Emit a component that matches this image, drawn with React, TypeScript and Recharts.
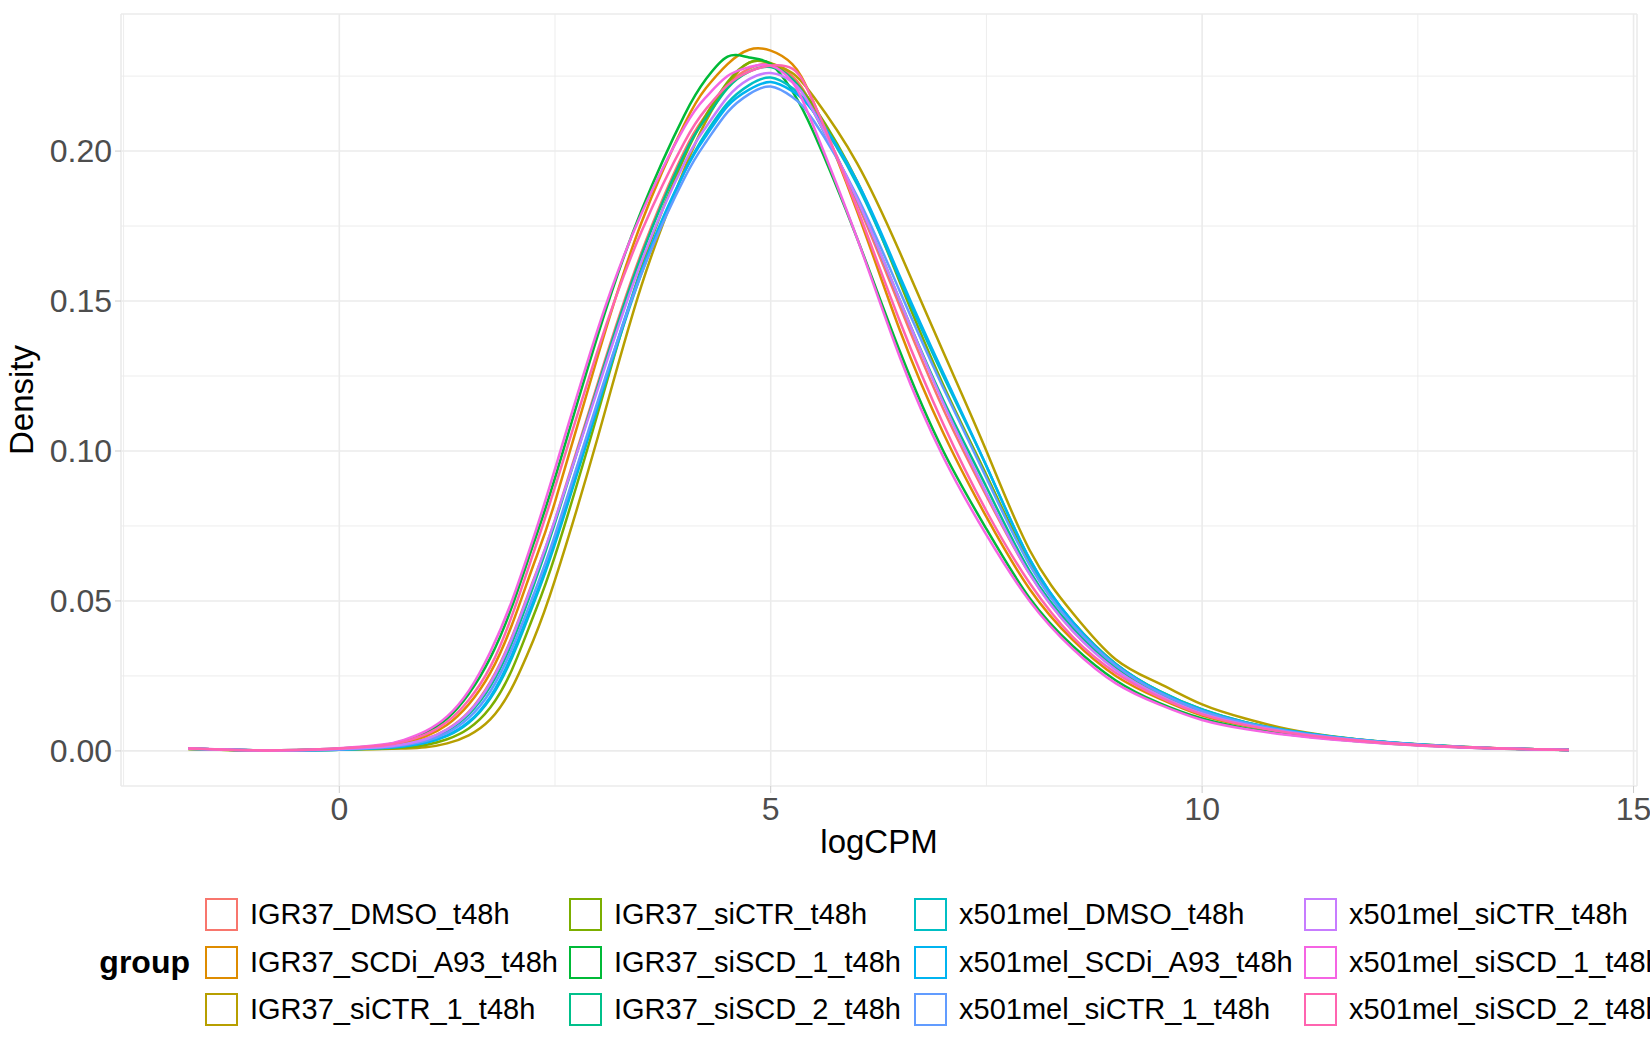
import { CartesianGrid, Line, LineChart, XAxis, YAxis } from "recharts";

// logCPM grid the densities were read at
const logCPM = [
  -1.75, -1, -0.5, 0, 0.5, 0.75, 1, 1.25, 1.5, 1.75, 2, 2.25, 2.5, 3, 3.5, 4,
  4.25, 4.5, 4.75, 5, 5.25, 5.5, 6, 6.5, 7, 7.5, 8, 8.5, 9, 9.5, 10, 10.5, 11,
  11.5, 12, 12.5, 13, 13.5, 14.25,
];

const igr37Dmso = [
  0.0007, 0.0002, 0.0002, 0.0006, 0.0014, 0.0023, 0.004, 0.0072, 0.013, 0.023,
  0.038, 0.057, 0.077, 0.123, 0.166, 0.2, 0.212, 0.222, 0.2275, 0.229, 0.225,
  0.214, 0.183, 0.148, 0.114, 0.085, 0.059, 0.04, 0.0275, 0.019, 0.0128, 0.009,
  0.0064, 0.0045, 0.0031, 0.0021, 0.0013, 0.0008, 0.0003,
];
const igr37ScdiA93 = [
  0.0007, 0.0002, 0.0002, 0.0007, 0.0016, 0.0028, 0.0049, 0.0087, 0.0155,
  0.026, 0.042, 0.062, 0.083, 0.132, 0.176, 0.209, 0.221, 0.229, 0.2338,
  0.2335, 0.229, 0.216, 0.18, 0.14, 0.106, 0.078, 0.054, 0.037, 0.025, 0.0175,
  0.0118, 0.0084, 0.006, 0.0043, 0.003, 0.002, 0.0013, 0.0008, 0.0003,
];
const igr37SiCtr1 = [
  0.0006, 0.0001, 0.0001, 0.0004, 0.0006, 0.0008, 0.0012, 0.0025, 0.0052,
  0.0105, 0.021, 0.037, 0.057, 0.105, 0.155, 0.194, 0.21, 0.222, 0.2295,
  0.2293, 0.226, 0.218, 0.196, 0.166, 0.133, 0.1, 0.067, 0.046, 0.0305, 0.0225,
  0.0155, 0.0108, 0.0072, 0.0049, 0.0033, 0.0022, 0.0014, 0.0008, 0.0003,
];
const igr37SiCtr = [
  0.0006, 0.0001, 0.0002, 0.0004, 0.0007, 0.0011, 0.002, 0.0039, 0.0075,
  0.0145, 0.027, 0.045, 0.065, 0.113, 0.161, 0.198, 0.212, 0.223, 0.2295,
  0.2292, 0.224, 0.215, 0.19, 0.156, 0.122, 0.092, 0.063, 0.043, 0.029, 0.02,
  0.0138, 0.0096, 0.0067, 0.0047, 0.0032, 0.0021, 0.0013, 0.0008, 0.0003,
];
const igr37SiScd1 = [
  0.0008, 0.0002, 0.0003, 0.0008, 0.0019, 0.0034, 0.0061, 0.0108, 0.019, 0.031,
  0.048, 0.069, 0.091, 0.139, 0.18, 0.212, 0.224, 0.2315, 0.2312, 0.229, 0.22,
  0.206, 0.171, 0.133, 0.1, 0.074, 0.051, 0.035, 0.0235, 0.016, 0.0108, 0.0076,
  0.0055, 0.004, 0.0028, 0.0019, 0.0012, 0.0007, 0.0003,
];
const igr37SiScd2 = [
  0.0007, 0.0002, 0.0002, 0.0006, 0.0013, 0.0021, 0.0037, 0.0067, 0.0122,
  0.0215, 0.036, 0.055, 0.076, 0.122, 0.165, 0.199, 0.211, 0.221, 0.2265,
  0.228, 0.224, 0.213, 0.184, 0.15, 0.117, 0.088, 0.06, 0.041, 0.028, 0.0195,
  0.0132, 0.0092, 0.0065, 0.0046, 0.0032, 0.0021, 0.0013, 0.0008, 0.0003,
];
const melDmso = [
  0.0008, 0.0002, 0.0002, 0.0004, 0.001, 0.0015, 0.0027, 0.005, 0.0094,
  0.0175, 0.031, 0.049, 0.069, 0.115, 0.159, 0.193, 0.206, 0.216, 0.222,
  0.2245, 0.221, 0.213, 0.189, 0.157, 0.125, 0.095, 0.064, 0.043, 0.029, 0.02,
  0.0138, 0.0096, 0.0068, 0.0048, 0.0033, 0.0022, 0.0014, 0.0008, 0.0003,
];
const melScdiA93 = [
  0.0007, 0.0002, 0.0002, 0.0004, 0.001, 0.0016, 0.0028, 0.0052, 0.0097, 0.018,
  0.032, 0.05, 0.07, 0.116, 0.16, 0.193, 0.205, 0.215, 0.2205, 0.223, 0.22,
  0.213, 0.19, 0.158, 0.126, 0.095, 0.064, 0.043, 0.0288, 0.0198, 0.0136,
  0.0095, 0.0067, 0.0047, 0.0032, 0.0021, 0.0013, 0.0008, 0.0003,
];
const melSiCtr1 = [
  0.0007, 0.0002, 0.0002, 0.0005, 0.0012, 0.0019, 0.0033, 0.006, 0.011, 0.0198,
  0.034, 0.052, 0.072, 0.117, 0.159, 0.191, 0.203, 0.213, 0.219, 0.2215, 0.218,
  0.21, 0.185, 0.153, 0.121, 0.091, 0.062, 0.042, 0.0285, 0.0195, 0.0133,
  0.0093, 0.0066, 0.0046, 0.0032, 0.0021, 0.0013, 0.0008, 0.0003,
];
const melSiCtr = [
  0.0007, 0.0002, 0.0002, 0.0006, 0.0013, 0.0022, 0.0039, 0.0071, 0.0128,
  0.0225, 0.0375, 0.0565, 0.077, 0.121, 0.163, 0.196, 0.208, 0.218, 0.224,
  0.226, 0.223, 0.213, 0.184, 0.15, 0.116, 0.086, 0.059, 0.04, 0.027, 0.0185,
  0.0125, 0.0088, 0.0062, 0.0044, 0.003, 0.002, 0.0013, 0.0008, 0.0003,
];
const melSiScd1 = [
  0.0009, 0.0002, 0.0003, 0.0009, 0.0021, 0.0037, 0.0066, 0.0115, 0.02, 0.033,
  0.05, 0.071, 0.094, 0.141, 0.179, 0.208, 0.218, 0.225, 0.228, 0.2285, 0.223,
  0.208, 0.171, 0.131, 0.098, 0.072, 0.05, 0.034, 0.0225, 0.0155, 0.0103,
  0.0073, 0.0053, 0.0038, 0.0027, 0.0018, 0.0011, 0.0007, 0.0003,
];
const melSiScd2 = [
  0.0008, 0.0002, 0.0003, 0.0008, 0.0018, 0.0031, 0.0055, 0.0097, 0.017, 0.028,
  0.045, 0.066, 0.088, 0.134, 0.173, 0.203, 0.214, 0.222, 0.2265, 0.2285,
  0.2275, 0.216, 0.181, 0.143, 0.109, 0.08, 0.056, 0.038, 0.026, 0.018, 0.0122,
  0.0086, 0.0061, 0.0043, 0.003, 0.002, 0.0013, 0.0008, 0.0003,
];

const groups = [
  "IGR37_DMSO_t48h",
  "IGR37_SCDi_A93_t48h",
  "IGR37_siCTR_1_t48h",
  "IGR37_siCTR_t48h",
  "IGR37_siSCD_1_t48h",
  "IGR37_siSCD_2_t48h",
  "x501mel_DMSO_t48h",
  "x501mel_SCDi_A93_t48h",
  "x501mel_siCTR_1_t48h",
  "x501mel_siCTR_t48h",
  "x501mel_siSCD_1_t48h",
  "x501mel_siSCD_2_t48h",
];
const densities = [
  igr37Dmso,
  igr37ScdiA93,
  igr37SiCtr1,
  igr37SiCtr,
  igr37SiScd1,
  igr37SiScd2,
  melDmso,
  melScdiA93,
  melSiCtr1,
  melSiCtr,
  melSiScd1,
  melSiScd2,
];
const colors = [
  "#F8766D", "#DE8C00", "#B79F00", "#7CAE00", "#00BA38", "#00C08B",
  "#00BFC4", "#00B4F0", "#619CFF", "#C77CFF", "#F564E3", "#FF64B0",
];

const xTicks = [0, 5, 10, 15];
const xMinor = [-2.5, 2.5, 7.5, 12.5];
const yTicks = [0, 0.05, 0.1, 0.15, 0.2];
const yMinor = [0.025, 0.075, 0.125, 0.175, 0.225];

const rows = logCPM.map((x, i) => {
  const row: Record<string, number> = { x };
  groups.forEach((g, k) => {
    row[g] = densities[k][i];
  });
  return row;
});

const FONT = '"Liberation Sans", Arial, Helvetica, sans-serif';
const legendCols = [205, 569, 914, 1304];

function GroupLegend() {
  return (
    <div
      style={{
        position: "absolute",
        left: 0,
        top: 891,
        width: 1650,
        height: 143,
        fontFamily: FONT,
      }}
    >
      <div
        style={{
          position: "absolute",
          right: 1650 - 190,
          top: 47.5,
          height: 47.5,
          lineHeight: "47.5px",
          fontSize: 32,
          fontWeight: "bold",
          color: "#000",
        }}
      >
        group
      </div>
      {groups.map((g, i) => {
        const col = Math.floor(i / 3);
        const row = i % 3;
        return (
          <div
            key={g}
            style={{
              position: "absolute",
              left: legendCols[col],
              top: row * 47.5,
              height: 47.5,
              display: "flex",
              alignItems: "center",
              whiteSpace: "nowrap",
            }}
          >
            <div
              style={{
                width: 29,
                height: 29,
                border: `2px solid ${colors[i]}`,
                background: "#fff",
              }}
            />
            <span
              style={{
                marginLeft: 12,
                fontSize: 29,
                color: "#000",
              }}
            >
              {g}
            </span>
          </div>
        );
      })}
    </div>
  );
}

export default function App() {
  return (
    <div
      style={{
        position: "absolute",
        left: 0,
        top: 0,
        width: 1650,
        height: 1050,
        background: "#fff",
        fontFamily: FONT,
        overflow: "hidden",
      }}
    >
      <LineChart
        width={1650}
        height={1050}
        data={rows}
        margin={{ top: 14, right: 13, bottom: 184, left: 0 }}
      >
        <CartesianGrid
          stroke="#EBEBEB"
          strokeWidth={0.9}
          verticalValues={xMinor}
          horizontalValues={yMinor}
        />
        <CartesianGrid stroke="#EBEBEB" strokeWidth={1.6} />
        <XAxis
          dataKey="x"
          type="number"
          domain={[-2.53, 15.04]}
          ticks={xTicks}
          interval={0}
          allowDataOverflow
          axisLine={false}
          tickLine={{ stroke: "#CCCCCC", strokeWidth: 1 }}
          tickSize={7}
          tickMargin={4}
          height={80}
          tick={{ fill: "#4D4D4D", fontSize: 32 }}
          label={(props: any) => {
            const vb = props.viewBox;
            return (
              <text
                x={vb.x + vb.width / 2}
                y={vb.y + 67}
                textAnchor="middle"
                fontSize={33}
                fill="#000"
              >
                logCPM
              </text>
            );
          }}
        />
        <YAxis
          type="number"
          domain={[-0.0117, 0.2457]}
          ticks={yTicks}
          interval={0}
          allowDataOverflow
          width={121}
          axisLine={false}
          tickLine={{ stroke: "#CCCCCC", strokeWidth: 1 }}
          tickSize={6}
          tickMargin={3}
          tick={{ fill: "#4D4D4D", fontSize: 32 }}
          tickFormatter={(v: number) => v.toFixed(2)}
          label={(props: any) => {
            const vb = props.viewBox;
            const cy = vb.y + vb.height / 2;
            return (
              <text
                x={33}
                y={cy}
                textAnchor="middle"
                fontSize={33}
                fill="#000"
                transform={`rotate(-90, 33, ${cy})`}
              >
                Density
              </text>
            );
          }}
        />
        {groups.map((g, i) => (
          <Line
            key={g}
            type="natural"
            dataKey={g}
            stroke={colors[i]}
            strokeWidth={2.5}
            dot={false}
            activeDot={false}
            isAnimationActive={false}
          />
        ))}
      </LineChart>
      <GroupLegend />
    </div>
  );
}
